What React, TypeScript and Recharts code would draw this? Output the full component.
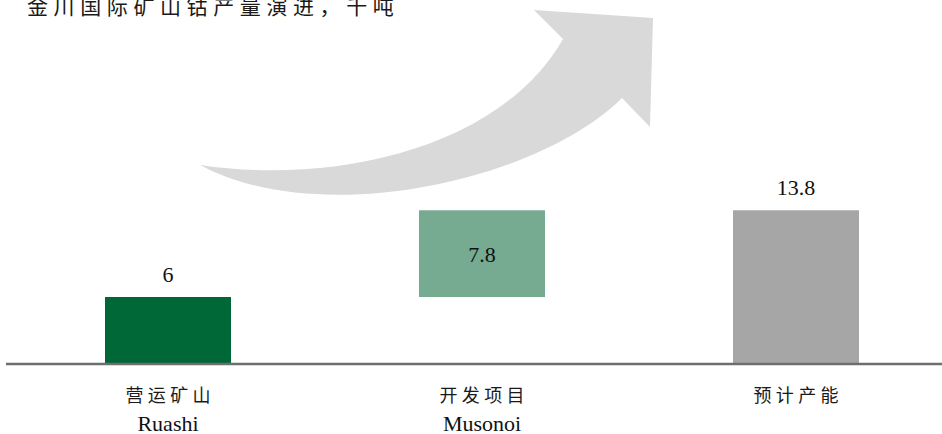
import React from "react";
import { BarChart, Bar, XAxis, YAxis, Cell, LabelList } from "recharts";

const titleText = "金川国际矿山钴产量演进，千吨";
const categoriesCn = ["营运矿山", "开发项目", "预计产能"];
const categoriesEn = ["Ruashi", "Musonoi", ""];
const baseValues = [0, 6, 0];
const barValues = [6, 7.8, 13.8];
const barColors = ["#006837", "#76AB91", "#A6A6A6"];

const data = categoriesCn.map((cn, i) => ({
  cn,
  en: categoriesEn[i],
  base: baseValues[i],
  value: barValues[i],
}));

const SERIF = "'Liberation Serif', 'Times New Roman', 'Noto Sans CJK SC', serif";
const CJK = "'Noto Sans CJK SC', 'Liberation Serif', serif";

const CategoryTick = (props: any) => {
  const { x, y, payload, index } = props;
  const en = categoriesEn[index] ?? "";
  return (
    <g>
      <text
        x={x}
        y={y + 38}
        dx={2.2}
        textAnchor="middle"
        fontFamily={CJK}
        fontSize={18}
        letterSpacing={4.4}
        fill="#1a1a1a"
      >
        {payload.value}
      </text>
      {en ? (
        <text
          x={x}
          y={y + 67}
          textAnchor="middle"
          fontFamily={SERIF}
          fontSize={22}
          fill="#111"
        >
          {en}
        </text>
      ) : null}
    </g>
  );
};

const ValueLabel = (props: any) => {
  const { x, y, width, height, index, value } = props;
  const inside = index === 1;
  const ty = inside ? y + height / 2 + 8 : y - 15;
  return (
    <text
      x={x + width / 2}
      y={ty}
      textAnchor="middle"
      fontFamily={SERIF}
      fontSize={22}
      fill="#111"
    >
      {value}
    </text>
  );
};

export default function App() {
  return (
    <div
      style={{
        position: "absolute",
        left: 0,
        top: 0,
        width: 942,
        height: 434,
        overflow: "hidden",
        background: "#fff",
      }}
    >
      <svg
        width={942}
        height={434}
        style={{ position: "absolute", left: 0, top: 0 }}
      >
        <path
          d="M200,165 C330,185 500,150 563,39 L534,10 L653,18 L650,127 L622,98 C540,180 320,230 200,165 Z"
          fill="#D9D9D9"
        />
        <text
          x={27}
          y={14}
          fontFamily={CJK}
          fontSize={21}
          letterSpacing={5.6}
          fill="#1a1a1a"
        >
          {titleText}
        </text>
      </svg>
      <div style={{ position: "absolute", left: 0, top: 0 }}>
        <BarChart
          width={960}
          height={434}
          data={data}
          margin={{ top: 141, right: 7, left: 6, bottom: 0 }}
        >
          <XAxis
            dataKey="cn"
            height={70}
            padding={{ left: 5, right: 0 }}
            axisLine={{ stroke: "#6E6E6E", strokeWidth: 2.5 }}
            tickLine={false}
            tickSize={0}
            tickMargin={0}
            interval={0}
            tick={<CategoryTick />}
          />
          <YAxis hide domain={[0, 20]} />
          <Bar
            dataKey="base"
            stackId="s"
            fill="transparent"
            barSize={126}
            isAnimationActive={false}
          />
          <Bar
            dataKey="value"
            stackId="s"
            barSize={126}
            isAnimationActive={false}
          >
            {data.map((d, i) => (
              <Cell key={d.cn} fill={barColors[i]} />
            ))}
            <LabelList dataKey="value" content={<ValueLabel />} />
          </Bar>
        </BarChart>
      </div>
    </div>
  );
}
